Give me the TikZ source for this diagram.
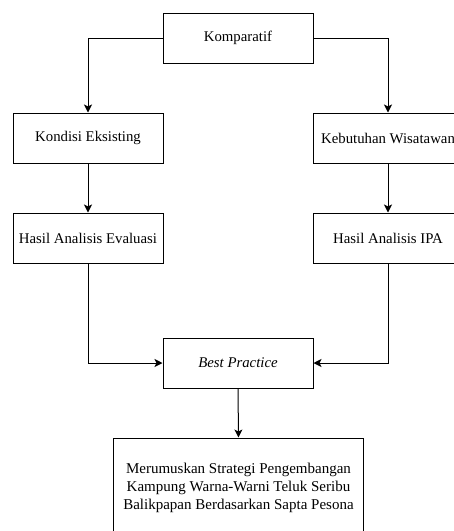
\documentclass[tikz,border=0pt]{standalone}
\usepackage{fontspec}
\setmainfont{Liberation Serif}
\usetikzlibrary{arrows.meta}
\begin{document}
\begin{tikzpicture}[x=1pt,y=-1pt,
  box/.style={draw=black,line width=1pt,minimum width=150pt,minimum height=50pt,inner sep=0pt,font=\fontsize{14.8}{17}\selectfont,align=center},
  conn/.style={draw=black,line width=1pt,-{Stealth[length=8pt,width=8pt,inset=2pt]}}]
\useasboundingbox (0,0) rectangle (454,531);
\clip (0,0) rectangle (454,531);
\fill[white] (0,0) rectangle (454,531);
\node[box] (k) at (238,38) {Komparatif};
\node[box] (ke) at (88,138) {Kondisi Eksisting};
\node[box] (kw) at (388,138) {Kebutuhan Wisatawan};
\node[box] (he) at (88,238) {Hasil Analisis Evaluasi};
\node[box] (hi) at (388,238) {Hasil Analisis IPA};
\node[box] (bp) at (238,363) {\itshape Best Practice};
\node[box,minimum width=250pt,minimum height=100pt,font=\fontsize{15}{18}\selectfont] (m) at (238.5,488) {Merumuskan Strategi Pengembangan\\Kampung Warna-Warni Teluk Seribu\\Balikpapan Berdasarkan Sapta Pesona};
\draw[conn] (k.west) -| (ke.north);
\draw[conn] (k.east) -| (kw.north);
\draw[conn] (ke.south) -- (he.north);
\draw[conn] (kw.south) -- (hi.north);
\draw[conn] (he.south) |- (bp.west);
\draw[conn] (hi.south) |- (bp.east);
\draw[conn] (bp.south) -- (m.north);
\end{tikzpicture}
\end{document}
